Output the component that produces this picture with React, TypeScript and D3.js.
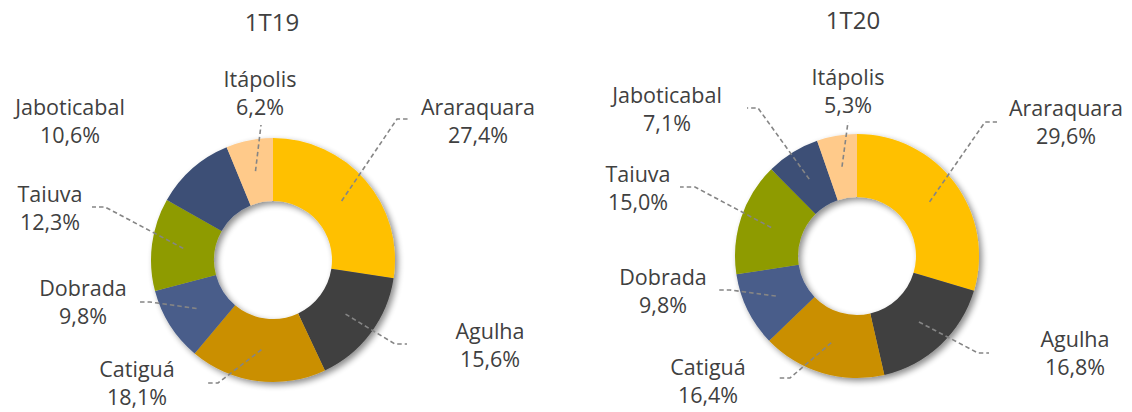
import React from "react";
import * as d3 from "d3";

const categories = ["Araraquara", "Agulha", "Catiguá", "Dobrada", "Taiuva", "Jaboticabal", "Itápolis"];
const values1T19 = [27.4, 15.6, 18.1, 9.8, 12.3, 10.6, 6.2];
const values1T20 = [29.6, 16.8, 16.4, 9.8, 15.0, 7.1, 5.3];
const titles = ["1T19", "1T20"];

const colors = ["#FFC000", "#404040", "#CA8F00", "#485D8A", "#8E9B00", "#3D5076", "#FFCA8A"];

const W = 1132;
const H = 412;
const R_OUT = 122;
const R_IN = 59;
const FONT = "'Open Sans', 'Noto Sans', sans-serif";
const TEXT = "#404040";

// layout: label center x, first baseline y, elbow point & end point of leader (null = none)
type Lay = { lx: number; ly: number; elbow: [number, number] | null; end: [number, number] | null };
const layout1: Lay[] = [
  { lx: 478, ly: 115, elbow: [397, 119], end: [408, 119] },
  { lx: 490, ly: 339, elbow: [395, 344], end: [407, 344] },
  { lx: 137, ly: 377, elbow: [218, 383], end: [208, 383] },
  { lx: 83, ly: 296, elbow: [150, 302], end: [138, 302] },
  { lx: 50, ly: 202, elbow: [105, 207], end: [92, 207] },
  { lx: 70, ly: 115, elbow: null, end: null },
  { lx: 260, ly: 87, elbow: [261, 125], end: [261, 125] },
];
const layout2: Lay[] = [
  { lx: 1066, ly: 116, elbow: [985, 122], end: [997, 122] },
  { lx: 1075, ly: 347, elbow: [978, 353], end: [989, 353] },
  { lx: 708, ly: 375, elbow: [790, 378], end: [778, 378] },
  { lx: 663, ly: 285, elbow: [730, 290], end: [717, 290] },
  { lx: 638, ly: 182, elbow: [695, 187], end: [680, 187] },
  { lx: 667, ly: 103, elbow: [758, 108], end: [747, 108] },
  { lx: 848, ly: 85, elbow: [848, 122], end: [848, 122] },
];

const charts = [
  { title: titles[0], values: values1T19, cx: 273, cy: 260, titleX: 272, titleY: 31, layout: layout1 },
  { title: titles[1], values: values1T20, cx: 857, cy: 256, titleX: 853, titleY: 29, layout: layout2 },
];

const fmt = (v: number) => v.toFixed(1).replace(".", ",") + "%";

function Donut({ chart, idx }: { chart: typeof charts[0]; idx: number }) {
  const pie = d3
    .pie<number>()
    .sort(null)
    .value((d) => d)
    .startAngle(0)
    .endAngle(2 * Math.PI);
  const arcs = pie(chart.values);
  const arc = d3.arc<d3.PieArcDatum<number>>().innerRadius(R_IN).outerRadius(R_OUT);
  const mid = d3.arc<d3.PieArcDatum<number>>().innerRadius((R_IN + R_OUT) / 2).outerRadius((R_IN + R_OUT) / 2);
  return (
    <g>
      <text x={chart.titleX} y={chart.titleY} textAnchor="middle" fontFamily={FONT} fontSize={24} fill={TEXT}>
        {chart.title}
      </text>
      <g transform={`translate(${chart.cx},${chart.cy})`} filter="url(#shadow)">
        {arcs.map((a, i) => (
          <path key={i} d={arc(a) || ""} fill={colors[i]} />
        ))}
      </g>
      {arcs.map((a, i) => {
        const lay = chart.layout[i];
        if (!lay.elbow || !lay.end) return null;
        const [mx, my] = mid.centroid(a);
        const pts: [number, number][] = [[chart.cx + mx, chart.cy + my], lay.elbow, lay.end];
        return (
          <path
            key={"l" + i}
            d={d3.line()(pts) || ""}
            fill="none"
            stroke="#858585"
            strokeWidth={1.6}
            strokeDasharray="4.5,3"
          />
        );
      })}
      {arcs.map((a, i) => {
        const lay = chart.layout[i];
        return (
          <text key={"t" + i} x={lay.lx} y={lay.ly} textAnchor="middle" fontFamily={FONT} fontSize={21.5} fill={TEXT}>
            <tspan x={lay.lx}>{categories[i]}</tspan>
            <tspan x={lay.lx} y={lay.ly + 28}>
              {fmt(chart.values[i])}
            </tspan>
          </text>
        );
      })}
    </g>
  );
}

export default function App() {
  return (
    <svg width={W} height={H} style={{ position: "absolute", left: 0, top: 0, background: "#fff" }}>
      <defs>
        <filter id="shadow" x="-20%" y="-20%" width="140%" height="140%">
          <feGaussianBlur in="SourceAlpha" stdDeviation="3" />
          <feOffset dx="3" dy="3" result="ob" />
          <feComponentTransfer>
            <feFuncA type="linear" slope="0.45" />
          </feComponentTransfer>
          <feMerge>
            <feMergeNode />
            <feMergeNode in="SourceGraphic" />
          </feMerge>
        </filter>
      </defs>
      <rect width={W} height={H} fill="#fff" />
      {charts.map((c, i) => (
        <Donut key={i} chart={c} idx={i} />
      ))}
    </svg>
  );
}
